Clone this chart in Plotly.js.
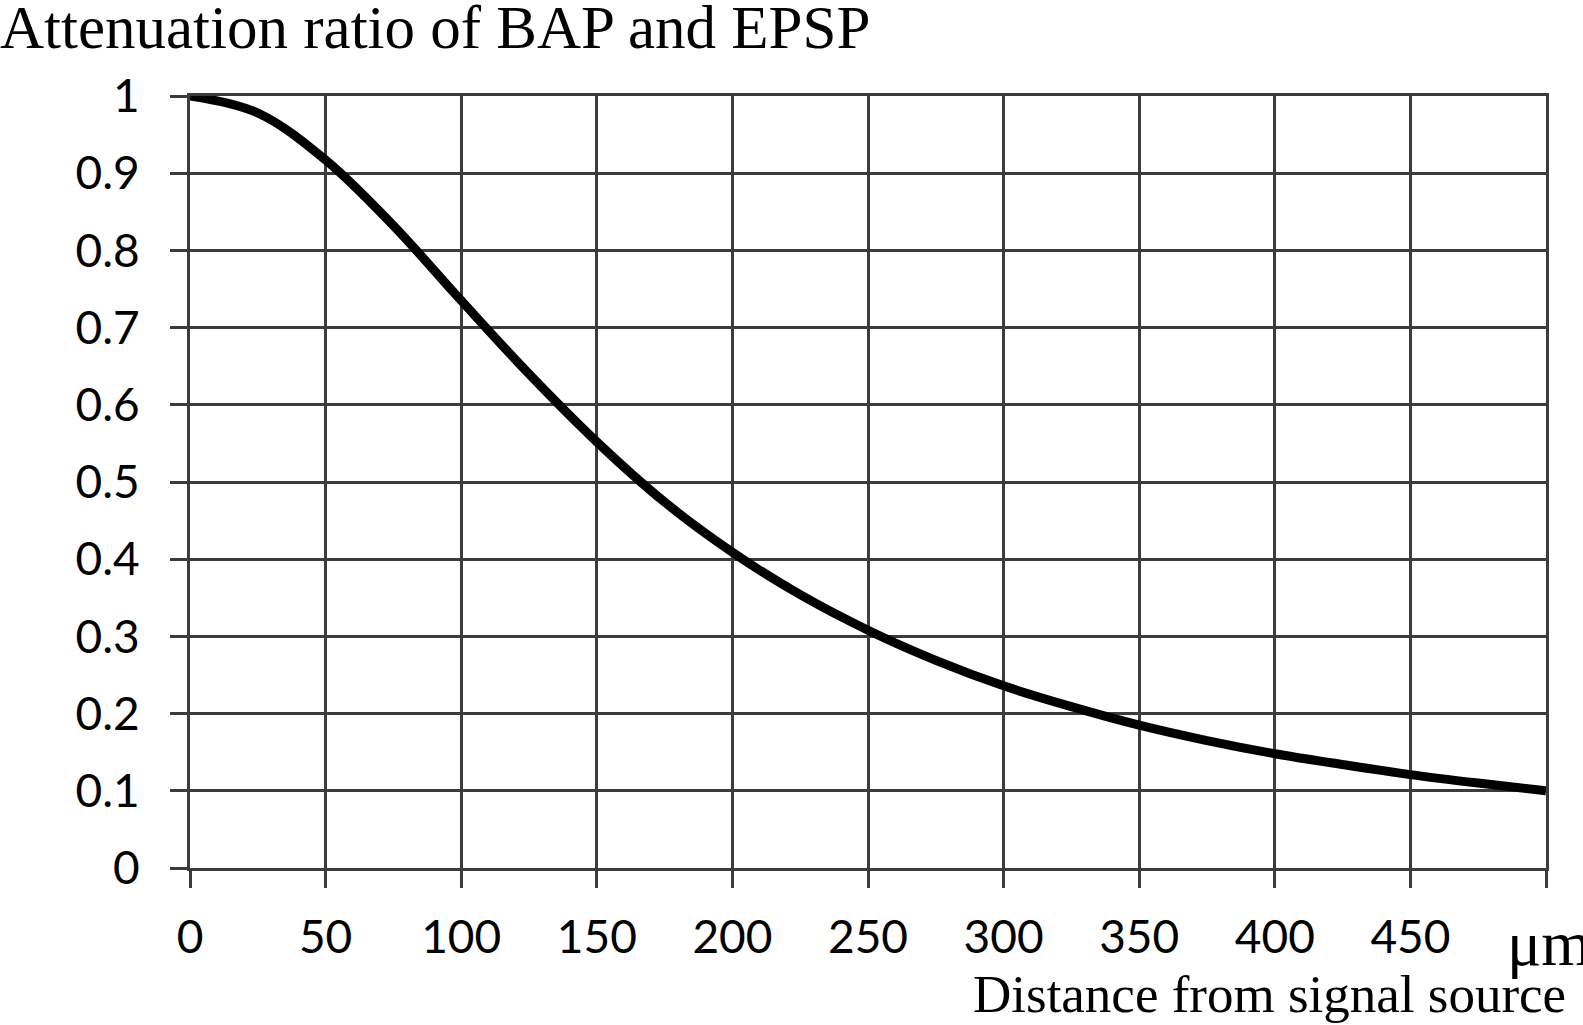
<!DOCTYPE html>
<html>
<head>
<meta charset="utf-8">
<script src="https://cdn.plot.ly/plotly-3.0.1.min.js"></script>
<style>
  html, body { margin: 0; padding: 0; background: #ffffff; }
  #chart { width: 1583px; height: 1025px; }
</style>
</head>
<body>
<div id="chart"></div>
<script>
// Distance from signal source (µm)
const distance = [0, 25, 50, 75, 100, 125, 150, 175, 200, 225, 250, 275, 300, 325, 350, 375, 400, 425, 450, 475, 500];
// Attenuation ratio
const ratio = [1.0, 0.978, 0.917, 0.832, 0.735, 0.640, 0.552, 0.474, 0.409, 0.354, 0.308, 0.269, 0.236, 0.209, 0.185, 0.165, 0.148, 0.134, 0.121, 0.110, 0.100];

const xTickVals = [0, 50, 100, 150, 200, 250, 300, 350, 400, 450, 500];
const xTickText = ['0', '50', '100', '150', '200', '250', '300', '350', '400', '450', ''];
const yTickVals = [0, 0.1, 0.2, 0.3, 0.4, 0.5, 0.6, 0.7, 0.8, 0.9, 1];
const yTickText = ['0', '0.1', '0.2', '0.3', '0.4', '0.5', '0.6', '0.7', '0.8', '0.9', '1'];

const titleText = 'Attenuation ratio of BAP and EPSP';
const xUnitText = 'μm';
const xTitleText = 'Distance from signal source';

const gridColor = '#3c3c3c';

const trace = {
  x: distance,
  y: ratio,
  type: 'scatter',
  mode: 'lines',
  line: { color: '#000000', width: 9, shape: 'spline', smoothing: 1 },
  hoverinfo: 'skip'
};

const axisCommon = {
  showgrid: true,
  gridcolor: gridColor,
  gridwidth: 3,
  zeroline: false,
  showline: true,
  mirror: true,
  linecolor: gridColor,
  linewidth: 3,
  ticks: 'outside',
  ticklen: 17,
  tickwidth: 3,
  tickcolor: gridColor,
  tickmode: 'array',
  tickfont: { family: 'Lato, sans-serif', size: 46, color: '#000000' },
  automargin: false,
  fixedrange: true
};

const layout = {
  width: 1583,
  height: 1025,
  paper_bgcolor: '#ffffff',
  plot_bgcolor: '#ffffff',
  showlegend: false,
  margin: { l: 190, r: 37, t: 96, b: 157, pad: 0 },
  title: {
    text: titleText,
    font: { family: 'Liberation Serif, Times New Roman, serif', size: 61, color: '#000000' },
    x: 0,
    xref: 'container',
    xanchor: 'left',
    y: 0.995,
    yref: 'container',
    yanchor: 'top',
    pad: { t: 0, l: 0, r: 0, b: 0 }
  },
  xaxis: Object.assign({}, axisCommon, {
    range: [0, 500],
    tickvals: xTickVals,
    ticktext: xTickText,
    ticklabelstandoff: 10
  }),
  yaxis: Object.assign({}, axisCommon, {
    range: [0, 1],
    tickvals: yTickVals,
    ticktext: yTickText,
    ticklabelstandoff: 21
  }),
  annotations: [
    {
      text: xUnitText,
      xref: 'paper', yref: 'paper',
      x: (1505 - 190) / 1356, y: -0.146,
      xanchor: 'left', yanchor: 'bottom',
      showarrow: false,
      font: { family: 'Liberation Serif, Times New Roman, serif', size: 64, color: '#000000' }
    },
    {
      text: xTitleText,
      xref: 'paper', yref: 'paper',
      x: (1568 - 190) / 1356, y: -0.203,
      xanchor: 'right', yanchor: 'bottom',
      showarrow: false,
      font: { family: 'Liberation Serif, Times New Roman, serif', size: 53, color: '#000000' }
    }
  ]
};

Plotly.newPlot('chart', [trace], layout, { displayModeBar: false, staticPlot: true });
</script>
</body>
</html>
